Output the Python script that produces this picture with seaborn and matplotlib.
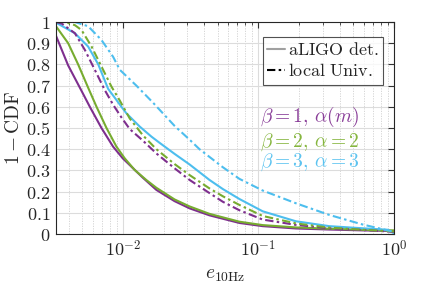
import numpy as np
import pandas as pd
import matplotlib
matplotlib.use("Agg")
import matplotlib.pyplot as plt
import seaborn as sns
from matplotlib.lines import Line2D
from matplotlib.ticker import FixedLocator, FuncFormatter, LogLocator, NullFormatter

# ---- data ----
e_b1_det = [0.00322, 0.00396, 0.00497, 0.00572, 0.00697, 0.00849, 0.01, 0.0126, 0.0141, 0.0177, 0.0241, 0.0311, 0.0436, 0.0725, 0.1076, 0.189, 0.333, 0.585, 1.0]
v_b1_det = [0.935, 0.795, 0.675, 0.60, 0.50, 0.412, 0.357, 0.295, 0.265, 0.208, 0.155, 0.121, 0.088, 0.052, 0.037, 0.026, 0.021, 0.017, 0.014]

e_b2_det = [0.00322, 0.00396, 0.00469, 0.00556, 0.00641, 0.00759, 0.00899, 0.01034, 0.01225, 0.0149, 0.0177, 0.0241, 0.0311, 0.0436, 0.0725, 0.1076, 0.189, 0.333, 0.585, 1.0]
v_b2_det = [0.98, 0.90, 0.80, 0.69, 0.60, 0.50, 0.412, 0.357, 0.302, 0.255, 0.218, 0.163, 0.13, 0.095, 0.058, 0.042, 0.031, 0.025, 0.02, 0.017]

e_b3_det = [0.00322, 0.00444, 0.00556, 0.0066, 0.0078, 0.00899, 0.00978, 0.01065, 0.01333, 0.0163, 0.0187, 0.0241, 0.0311, 0.0436, 0.0547, 0.0725, 0.1076, 0.189, 0.333, 0.585, 0.9, 1.0]
v_b3_det = [0.997, 0.947, 0.884, 0.80, 0.685, 0.632, 0.60, 0.569, 0.507, 0.459, 0.43, 0.378, 0.328, 0.255, 0.212, 0.165, 0.107, 0.06, 0.037, 0.027, 0.02, 0.003]

e_b1_loc = [0.00322, 0.00356, 0.00444, 0.00526, 0.00623, 0.00737, 0.00849, 0.00978, 0.01126, 0.0141, 0.0177, 0.0241, 0.0311, 0.0436, 0.0547, 0.0725, 0.1076, 0.189, 0.333, 0.585, 1.0]
v_b1_loc = [1.0, 0.992, 0.947, 0.868, 0.774, 0.679, 0.61, 0.55, 0.495, 0.44, 0.38, 0.31, 0.255, 0.193, 0.152, 0.112, 0.068, 0.043, 0.027, 0.019, 0.01]

e_b2_loc = [0.00322, 0.00375, 0.00444, 0.00497, 0.00589, 0.00697, 0.00826, 0.0095, 0.01126, 0.0141, 0.0177, 0.0241, 0.0311, 0.0436, 0.0547, 0.0725, 0.1076, 0.189, 0.333, 0.585, 1.0]
v_b2_loc = [1.0, 1.0, 0.985, 0.962, 0.884, 0.79, 0.695, 0.63, 0.545, 0.465, 0.40, 0.33, 0.278, 0.215, 0.178, 0.137, 0.085, 0.05, 0.03, 0.02, 0.012]

e_b3_loc = [0.00322, 0.00444, 0.00556, 0.00697, 0.00849, 0.0095, 0.0126, 0.01669, 0.0241, 0.0311, 0.0368, 0.0547, 0.0725, 0.1076, 0.189, 0.333, 0.585, 1.0]
v_b3_loc = [1.0, 1.0, 0.98, 0.915, 0.836, 0.775, 0.70, 0.62, 0.51, 0.445, 0.40, 0.315, 0.26, 0.205, 0.145, 0.09, 0.045, 0.01]

y_ticks = [0, 0.1, 0.2, 0.3, 0.4, 0.5, 0.6, 0.7, 0.8, 0.9, 1]
x_ticks = [0.01, 0.1, 1.0]
labels = [r"$\beta=1,\,\alpha(m)$", r"$\beta=2,\,\alpha=2$", r"$\beta=3,\,\alpha=3$"]

# ---- style ----
sns.set_style("white")
plt.rcParams["mathtext.fontset"] = "cm"
plt.rcParams["font.family"] = ["DejaVu Serif"]

c_purple = "#7E2F8E"
c_green = "#77AC30"
c_blue = "#4DBEEE"
dashdot = (0, (4.0, 1.6, 1.2, 1.6))
lw = 1.5

fig = plt.figure(figsize=(4.36, 2.93), dpi=100)
ax = fig.add_axes([0.1284, 0.2014, 0.7753, 0.7235])

series = [
    (e_b1_det, v_b1_det, c_purple, "-"),
    (e_b2_det, v_b2_det, c_green, "-"),
    (e_b3_det, v_b3_det, c_blue, "-"),
    (e_b1_loc, v_b1_loc, c_purple, dashdot),
    (e_b2_loc, v_b2_loc, c_green, dashdot),
    (e_b3_loc, v_b3_loc, c_blue, dashdot),
]
for xs, ys, col, ls in series:
    df = pd.DataFrame({"e": xs, "v": ys})
    sns.lineplot(data=df, x="e", y="v", ax=ax, color=col, linestyle=ls, lw=lw, legend=False)

ax.set_xscale("log")
ax.set_xlim(0.00322, 1.0)
ax.set_ylim(0, 1)

ax.xaxis.set_major_locator(FixedLocator(x_ticks))
ax.xaxis.set_minor_locator(LogLocator(base=10, subs=np.arange(2, 10)))
ax.xaxis.set_minor_formatter(NullFormatter())
ax.xaxis.set_major_formatter(FuncFormatter(lambda v, p: r"$10^{%d}$" % int(round(np.log10(v)))))
ax.yaxis.set_major_locator(FixedLocator(y_ticks))
ax.yaxis.set_major_formatter(FuncFormatter(lambda v, p: r"$\mathrm{%s}$" % ("%g" % v)))

ax.grid(True, which="major", color="#dcdcdc", lw=0.8, ls="-")
ax.grid(True, which="minor", axis="x", color="#d0d0d0", lw=0.6, ls=(0, (1.5, 1.5)))
ax.set_axisbelow(True)

ax.tick_params(which="both", direction="in", top=True, right=True, labelsize=13, pad=4, color="#333333")
ax.tick_params(which="major", length=4, width=0.8)
ax.tick_params(which="minor", length=2, width=0.6)
for s in ax.spines.values():
    s.set_color("#262626")
    s.set_linewidth(0.8)

ax.set_xlabel(r"$e_{10\mathrm{Hz}}$", fontsize=14, labelpad=4)
ax.set_ylabel(r"$1-\mathrm{CDF}$", fontsize=14, labelpad=2)

handles = [
    Line2D([], [], color="#a0a0a0", lw=1.5, ls="-"),
    Line2D([], [], color="black", lw=1.5, ls=dashdot),
]
leg = ax.legend(handles, [r"$\mathrm{aLIGO\ det.}$", r"$\mathrm{local\ Univ.}$"],
                loc="upper right", bbox_to_anchor=(0.968, 0.93), fontsize=13,
                handlelength=1.0, handletextpad=0.15, borderpad=0.25, labelspacing=0.15,
                frameon=True, fancybox=False, borderaxespad=0)
leg.get_frame().set_edgecolor("#262626")
leg.get_frame().set_linewidth(0.8)

ax.text(0.603, 0.550, labels[0], transform=ax.transAxes, color="#8a3f99", fontsize=14, va="center", ha="left")
ax.text(0.603, 0.435, labels[1], transform=ax.transAxes, color="#86b63f", fontsize=14, va="center", ha="left")
ax.text(0.603, 0.340, labels[2], transform=ax.transAxes, color="#5cc3f0", fontsize=14, va="center", ha="left")

fig.savefig("out.png", dpi=100)
